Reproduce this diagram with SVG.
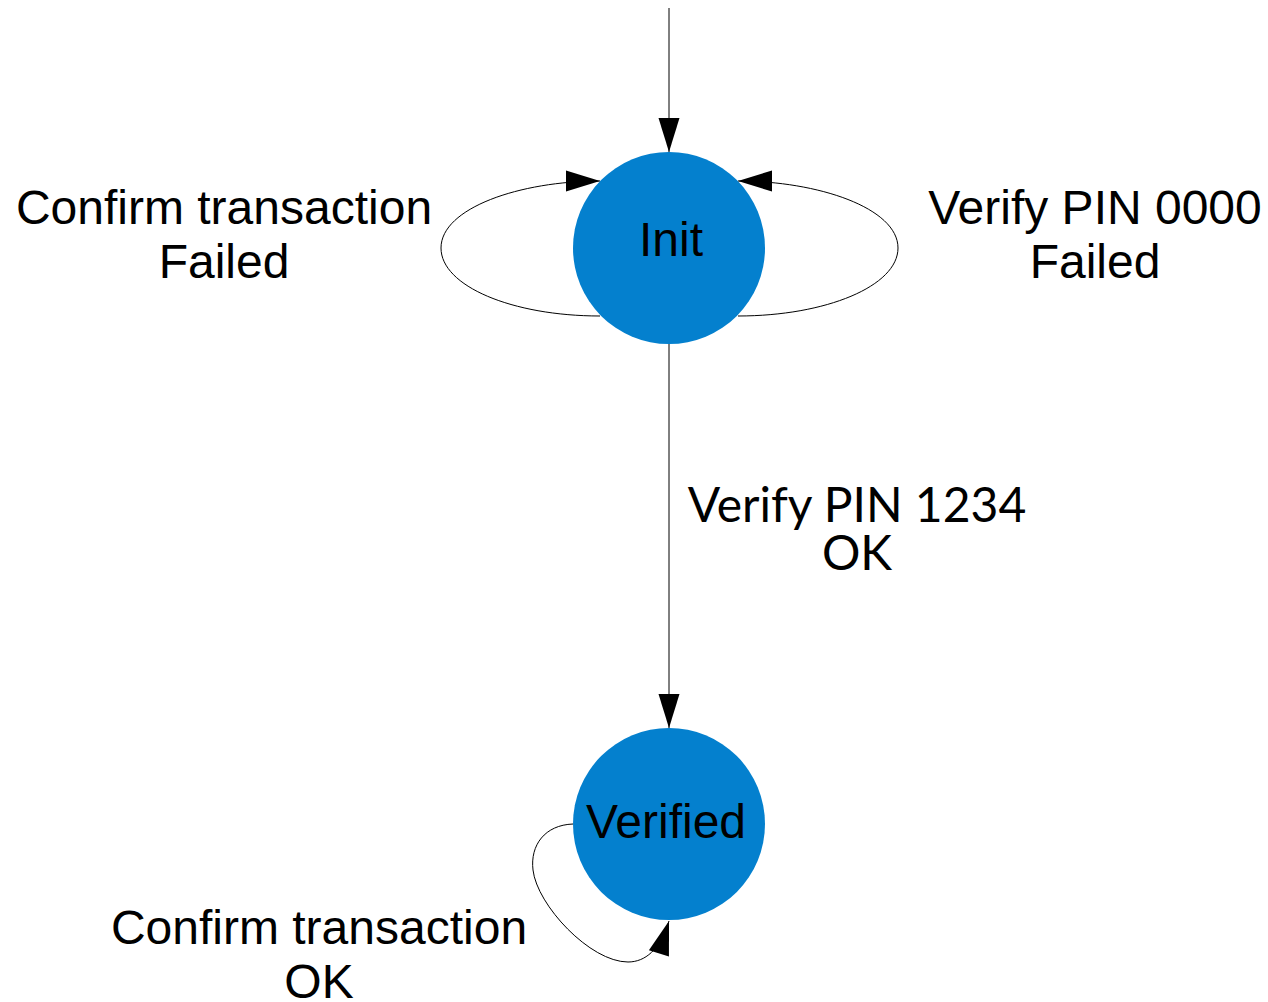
<svg xmlns="http://www.w3.org/2000/svg" width="1268" height="1002" viewBox="0 0 1268 1002">
  <style>
    .state { fill: #0480ce; }
    .edge { fill: none; stroke: #000; stroke-width: 1; marker-end: url(#arrow); }
    .lbl { font-family: "Liberation Sans", Arial, sans-serif; font-size: 48px; fill: #000; text-anchor: middle; }
    .lato { font-family: Lato, "Liberation Sans", sans-serif; font-size: 48px; fill: #000; text-anchor: middle; }
  </style>
  <defs>
    <marker id="arrow" markerUnits="userSpaceOnUse" markerWidth="34" markerHeight="21" refX="34" refY="10.5" orient="auto" overflow="visible">
      <path d="M0,0 L34,10.5 L0,21 Z" fill="#000"/>
    </marker>
  </defs>
  <rect width="1268" height="1002" fill="#fff"/>
  <g id="connectors">
    <path class="edge" d="M669 8 L669 152"/>
    <path class="edge" d="M669 344 L669 728"/>
    <path class="edge" d="M600 316 C512 316 441 286 441 248 C441 208 520 181 600 181"/>
    <path class="edge" d="M738 316 C826 316 898 286 898 248 C898 208 818 181 738 181"/>
    <path class="edge" d="M573 824 C545 825 530 845 533 870 C537 905 590 962 628 962 C645 962 660 950 669 921"/>
  </g>
  <g id="init">
    <circle class="state" cx="669" cy="248" r="96"/>
    <text class="lbl" x="671" y="256">Init</text>
  </g>
  <g id="verified">
    <circle class="state" cx="669" cy="824" r="96"/>
    <text class="lbl" x="666" y="838">Verified</text>
  </g>
  <g id="labels">
    <text class="lbl" x="224" y="224">Confirm transaction</text>
    <text class="lbl" x="224" y="278">Failed</text>
    <text class="lbl" x="1095" y="224">Verify PIN 0000</text>
    <text class="lbl" x="1095" y="278">Failed</text>
    <text class="lato" x="857" y="522">Verify PIN 1234</text>
    <text class="lato" x="857" y="570">OK</text>
    <text class="lbl" x="319" y="944">Confirm transaction</text>
    <text class="lbl" x="319" y="998">OK</text>
  </g>
</svg>
